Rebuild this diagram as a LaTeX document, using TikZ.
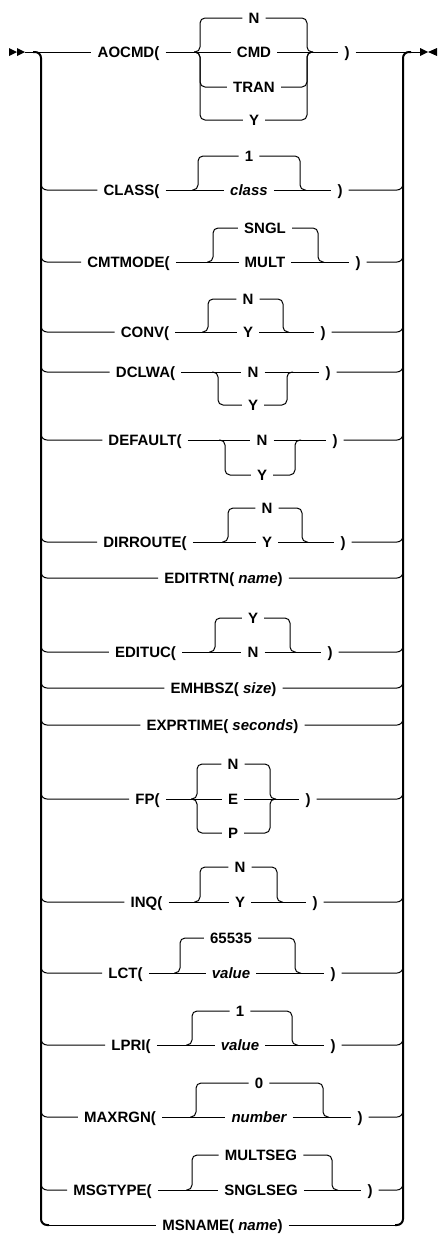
\documentclass[tikz,border=0pt]{standalone}
\usepackage{fontspec}
\setmainfont{Liberation Sans}
\newcommand{\rrgroup}[6]{%
  \foreach \yy/\ct/\st [count=\i] in {#6} {
    \node[\st] (#1-\i) at (#5,\yy) {\ct};
    \ifdim \yy pt=#2pt
      \draw[ln] (#3,#2) -- (#1-\i.west);
      \draw[ln] (#1-\i.east) -- (#4,#2);
    \else
      \draw[ln, rounded corners=5pt] (#3-6,#2) -- (#3,#2) -- (#3,\yy) -- (#1-\i.west);
      \draw[ln, rounded corners=5pt] (#1-\i.east) -- (#4,\yy) -- (#4,#2) -- (#4+6,#2);
    \fi
  }
}
\newcommand{\rrrow}[4]{%
  \node[kw] (#1) at (#3,#2) {#4};
  \draw[ln, rounded corners=6pt] (41,#2-10) -- (41,#2) -- (#1.west);
}
\newcommand{\rrclose}[5]{% name, y, xl, xr, paren x
  \node[kw] (#1p) at (#5,#2) {)};
  \draw[ln] (#1.east) -- (#3,#2);
  \draw[ln] (#4,#2) -- (#1p.west);
  \draw[ln, rounded corners=6pt] (#1p.east) -- (403,#2) -- (403,#2-10);
}
\newcommand{\rrsimple}[2]{% name, y
  \draw[ln, rounded corners=6pt] (#1.east) -- (403,#2) -- (403,#2-10);
}
\begin{document}
\begin{tikzpicture}[x=1pt,y=-1pt,
  ln/.style={line width=1pt},
  rail/.style={line width=2pt, rounded corners=6pt},
  kw/.style={font=\fontsize{15}{15}\selectfont\bfseries, text height=10.7pt, text depth=0pt, inner ysep=0pt, inner xsep=6pt},
  var/.style={kw, font=\fontsize{15}{15}\selectfont\bfseries\itshape}
]
\useasboundingbox (0,0) rectangle (438,1234);

% start and end symbols
\fill (9,48) -- (17,52) -- (9,56) -- cycle;
\fill (17,48) -- (25,52) -- (17,56) -- cycle;
\coordinate (startpt) at (25,52);
\fill (420,48) -- (428,52) -- (420,56) -- cycle;
\fill (437,48) -- (428,52) -- (437,56) -- cycle;
\coordinate (endpt) at (420,52);

% rails
\draw[rail] (33,52) -- (41,52) -- (41,1225) -- (49,1225);
\draw[rail] (411,52) -- (403,52) -- (403,1225) -- (395,1225);

% AOCMD
\node[kw] (AOCMD) at (128.5,52) {AOCMD(};
\draw[ln] (startpt) -- (AOCMD.west);
\rrgroup{AOCMDc}{52}{200}{307}{254}{18/N/kw, 52/CMD/kw, 87/TRAN/kw, 120/Y/kw}
\node[kw] (AOCMDp) at (347,52) {)};
\draw[ln] (AOCMD.east) -- (200,52);
\draw[ln] (307,52) -- (AOCMDp.west);
\draw[ln] (AOCMDp.east) -- (endpt);

% CLASS
\rrrow{CLASS}{190}{131.5}{CLASS(}
\rrgroup{CLASSc}{190}{198}{300}{249}{156/1/kw, 190/class/var}
\rrclose{CLASS}{190}{198}{300}{340}

% CMTMODE
\rrrow{CMTMODE}{262}{128.5}{CMTMODE(}
\rrgroup{CMTMODEc}{262}{213}{318}{265}{228/SNGL/kw, 262/MULT/kw}
\rrclose{CMTMODE}{262}{213}{318}{358}

% CONV
\rrrow{CONV}{332}{145}{CONV(}
\rrgroup{CONVc}{332}{208}{283}{248}{299/N/kw, 332/Y/kw}
\rrclose{CONV}{332}{208}{283}{323}

% DCLWA
\rrrow{DCLWA}{372}{145.5}{DCLWA(}
\rrgroup{DCLWAc}{372}{218}{287}{253}{372/N/kw, 405/Y/kw}
\rrclose{DCLWA}{372}{218}{287}{328}

% DEFAULT
\rrrow{DEFAULT}{440}{145}{DEFAULT(}
\rrgroup{DEFAULTc}{440}{225}{295}{262}{440/N/kw, 475/Y/kw}
\rrclose{DEFAULT}{440}{225}{295}{335}

% DIRROUTE
\rrrow{DIRROUTE}{542}{145}{DIRROUTE(}
\rrgroup{DIRROUTEc}{542}{228}{302}{267}{508/N/kw, 542/Y/kw}
\rrclose{DIRROUTE}{542}{228}{302}{343}

% EDITRTN
\rrrow{EDITRTN}{578}{223.5}{EDITRTN( \textit{name})}
\rrsimple{EDITRTN}{578}

% EDITUC
\rrrow{EDITUC}{652}{145.5}{EDITUC(}
\rrgroup{EDITUCc}{652}{215}{290}{253}{618/Y/kw, 652/N/kw}
\rrclose{EDITUC}{652}{215}{290}{330}

% EMHBSZ
\rrrow{EMHBSZ}{688}{223.5}{EMHBSZ( \textit{size})}
\rrsimple{EMHBSZ}{688}

% EXPRTIME
\rrrow{EXPRTIME}{725}{222.5}{EXPRTIME( \textit{seconds})}
\rrsimple{EXPRTIME}{725}

% FP
\rrrow{FP}{799}{147.5}{FP(}
\rrgroup{FPc}{799}{197}{270}{233}{764/N/kw, 799/E/kw, 833/P/kw}
\rrclose{FP}{799}{197}{270}{308}

% INQ
\rrrow{INQ}{902}{146.5}{INQ(}
\rrgroup{INQc}{902}{200}{277}{240}{867/N/kw, 902/Y/kw}
\rrclose{INQ}{902}{200}{277}{315}

% LCT
\rrrow{LCT}{973}{125.5}{LCT(}
\rrgroup{LCTc}{973}{180}{295}{231}{938/65535/kw, 973/value/var}
\rrclose{LCT}{973}{180}{295}{333}

% LPRI
\rrrow{LPRI}{1045}{131}{LPRI(}
\rrgroup{LPRIc}{1045}{192}{292}{240}{1011/1/kw, 1045/value/var}
\rrclose{LPRI}{1045}{192}{292}{333}

% MAXRGN
\rrrow{MAXRGN}{1117}{120}{MAXRGN(}
\rrgroup{MAXRGNc}{1117}{196}{323}{259}{1083/0/kw, 1117/number/var}
\rrclose{MAXRGN}{1117}{196}{323}{360}

% MSGTYPE
\rrrow{MSGTYPE}{1190}{112.5}{MSGTYPE(}
\rrgroup{MSGTYPEc}{1190}{192}{332}{261}{1155/MULTSEG/kw, 1190/SNGLSEG/kw}
\rrclose{MSGTYPE}{1190}{192}{332}{370}

% MSNAME
\node[kw] (MSNAME) at (222.5,1225) {MSNAME( \textit{name})};
\draw[ln] (49,1225) -- (MSNAME.west);
\draw[ln] (MSNAME.east) -- (395,1225);
\end{tikzpicture}
\end{document}
